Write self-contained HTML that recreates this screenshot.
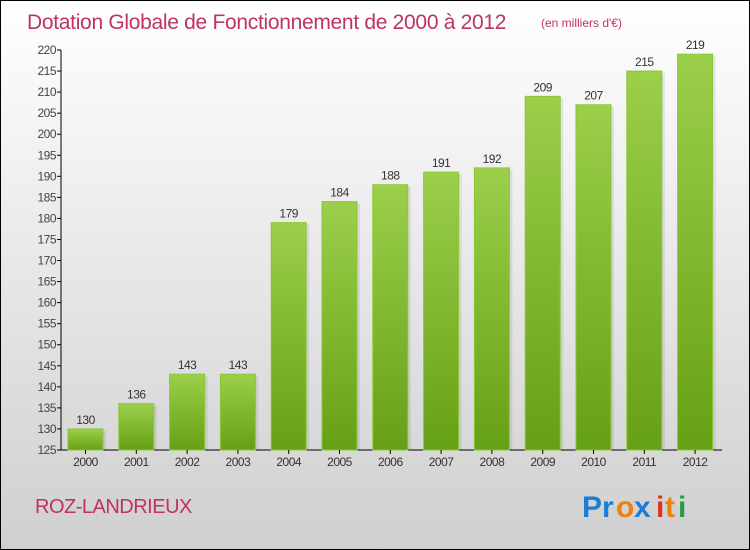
<!DOCTYPE html>
<html><head><meta charset="utf-8"><style>
body{margin:0}
svg{display:block}
text{font-family:"Liberation Sans",sans-serif}
</style></head><body>
<svg id="c" width="750" height="550" xmlns="http://www.w3.org/2000/svg">
<defs>
<linearGradient id="bg" x1="0" y1="0" x2="0" y2="1"><stop offset="0" stop-color="#ffffff"/><stop offset="1" stop-color="#cfcfcf"/></linearGradient>
<linearGradient id="bar" x1="0" y1="0" x2="0" y2="1"><stop offset="0" stop-color="#9ccf4a"/><stop offset="1" stop-color="#66a016"/></linearGradient>
</defs>
<rect x="0.5" y="0.5" width="749" height="549" fill="url(#bg)" stroke="#000"/>
<text x="27" y="29" font-size="21" fill="#c0335f" letter-spacing="-0.3">Dotation Globale de Fonctionnement de 2000 à 2012</text>
<text x="541" y="27" font-size="12" fill="#c0335f">(en milliers d'€)</text>
<g id="plot"></g>
<text x="35" y="513" font-size="20" fill="#c0335f" letter-spacing="-0.5">ROZ-LANDRIEUX</text>
<g font-size="30" font-weight="bold">
<text x="582" y="517" fill="#1a7fd4">Pr</text><text x="616" y="517" fill="#f08010">o</text><text x="634" y="517" fill="#1a7fd4">x</text><text x="656" y="517" fill="#e03020">i</text><text x="665" y="517" fill="#f08010">t</text><text x="678" y="517" fill="#20a040">i</text>
</g>
</svg>
<script>
const categories=["2000","2001","2002","2003","2004","2005","2006","2007","2008","2009","2010","2011","2012"];
const values=[130,136,143,143,179,184,188,191,192,209,207,215,219];
const yTicks=[125,130,135,140,145,150,155,160,165,170,175,180,185,190,195,200,205,210,215,220];
const NS="http://www.w3.org/2000/svg";
const g=document.getElementById('plot');
const yMin=125,yMax=220,y0=450,y1=50;
const y=v=>y0-(v-yMin)/(yMax-yMin)*(y0-y1);
const x=i=>85.5+i*50.8;
function mk(t,a){const e=document.createElementNS(NS,t);for(const k in a)e.setAttribute(k,a[k]);g.appendChild(e);return e;}
let ax=mk('line',{x1:61,y1:y1,x2:61,y2:y0,stroke:'#000'});


let bx=mk('line',{x1:61,y1:y0,x2:722,y2:y0,stroke:'#000'});


yTicks.forEach(v=>{
 let t=mk('line',{x1:57,y1:y(v),x2:61,y2:y(v),stroke:'#000'});
 
 
 let l=mk('text',{x:56,y:y(v)+4,'font-size':12,'text-anchor':'end',fill:'#444','letter-spacing':'-0.5'});
 l.textContent=v;
 
 
});
categories.forEach((c,i)=>{
 const w=35,top=y(values[i]);
 let s=mk('rect',{x:x(i)-w/2+3,y:top+2,width:w,height:y0-top-2,fill:'#000',opacity:0.08});
 
 
 let b=mk('rect',{x:x(i)-w/2,y:top,width:w,height:y0-top,fill:'url(#bar)',stroke:'#8cc63c','stroke-width':1});
 
 
 let v=mk('text',{x:x(i),y:top-5,'font-size':12,'text-anchor':'middle',fill:'#333','letter-spacing':'-0.5'});
 v.textContent=values[i];
 
 
 let t=mk('line',{x1:x(i),y1:y0,x2:x(i),y2:y0+4,stroke:'#000'});
 
 
 let l=mk('text',{x:x(i),y:y0+16,'font-size':12,'text-anchor':'middle',fill:'#333','letter-spacing':'-0.5'});
 l.textContent=c;
 
 
});
</script>
</body></html>
